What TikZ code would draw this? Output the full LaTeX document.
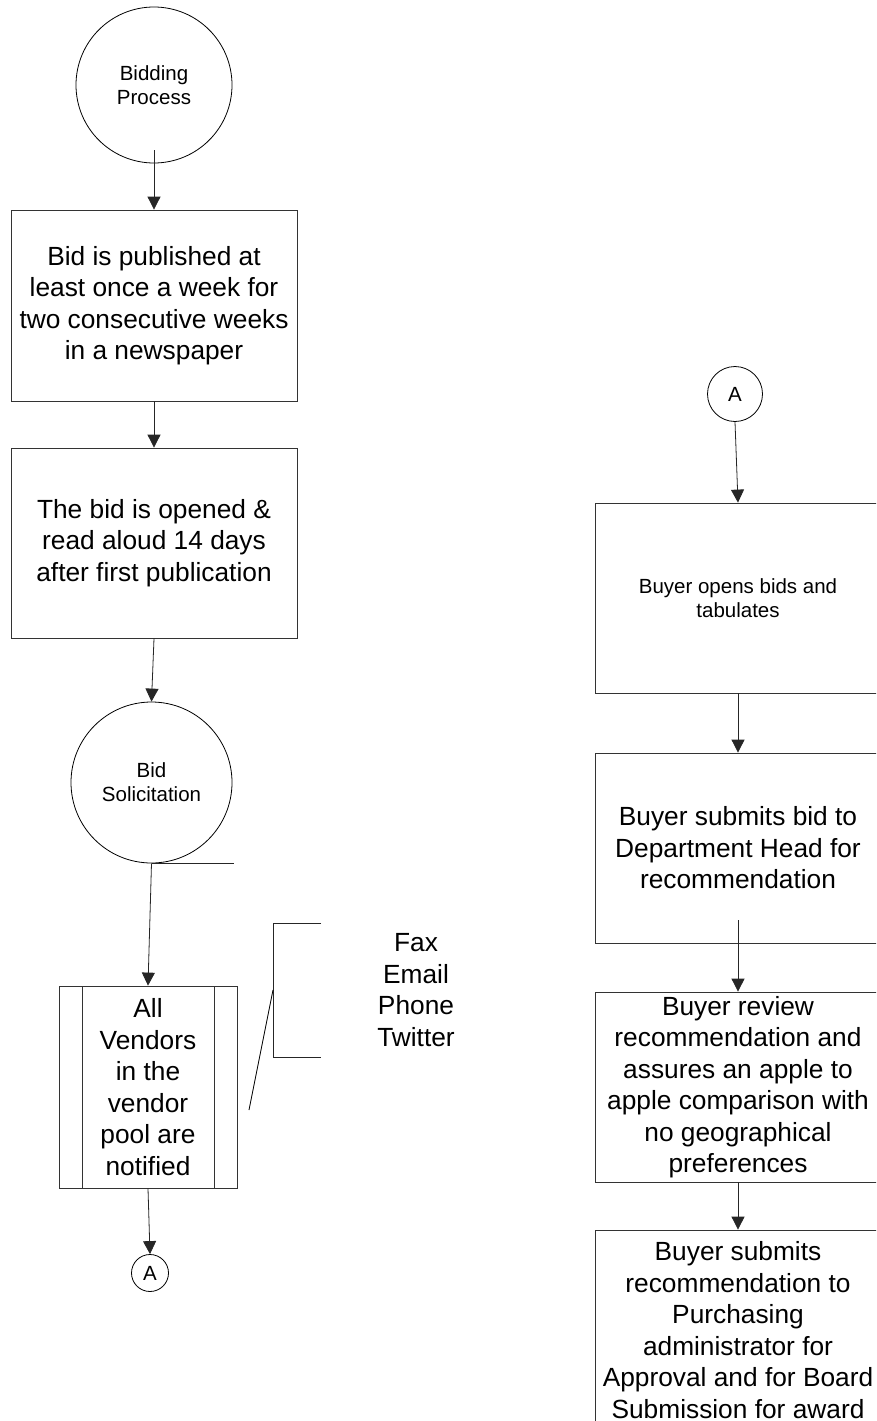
\documentclass[tikz,border=0pt]{standalone}
\usepackage{fontspec}
\setmainfont{Liberation Sans}
\usetikzlibrary{arrows.meta}
\newcommand\bigtxt{\fontsize{26.3}{31.5}\selectfont}
\newcommand\smalltxt{\fontsize{20.5}{24}\selectfont}
\begin{document}
\begin{tikzpicture}[x=1pt,y=-1pt,
  line width=0.8pt,
  proc/.style={draw=black!80, rectangle, minimum width=286pt, minimum height=#1, inner sep=0pt, align=center, font=\bigtxt},
  proc/.default=191pt,
  term/.style={draw=black, circle, minimum size=#1, inner sep=0pt, align=center, font=\smalltxt},
  link/.style={draw=black!85, -{Triangle[length=13pt,width=13pt]}},
  plain/.style={draw=black!85}]
\useasboundingbox (0,0) rectangle (876,1421);
\clip (0,0) rectangle (876,1421);
\fill[white] (0,0) rectangle (876,1421);

% left column
\node[term=156pt] (bp) at (154,85) {Bidding\\Process};
\node[proc] (pub) at (154,305.5) {Bid is published at\\least once a week for\\two consecutive weeks\\in a newspaper};
\node[proc=190pt] (open) at (154,543) {The bid is opened \&\\read aloud 14 days\\after first publication};
\node[term=161pt] (bs) at (151.5,782.5) {Bid\\Solicitation};
\node[proc, minimum width=178pt, minimum height=202pt] (notify) at (148,1087) {All\\Vendors\\in the\\vendor\\pool are\\notified};
\draw[draw=black!80] (82,986) -- (82,1188) (214,986) -- (214,1188);
\node[term=37pt] (aL) at (150,1273) {A};

\coordinate (bpOut) at (154,150);
\draw[link] (bpOut) -- (pub.north);
\draw[link] (pub.south) -- (open.north);
\draw[link] (open.south) -- (bs.north);
\draw[plain] (bs.south) -- ++(82,0);
\draw[link] (bs.south) -- (notify.north);
\draw[link] (notify.south) -- (aL.north);

% annotation bracket
\node[font=\bigtxt, align=center] (media) at (416,990) {Fax\\Email\\Phone\\Twitter};
\coordinate (brTop) at (321,923);
\coordinate (brBot) at (321,1057);
\coordinate (brMid) at (273,990);
\coordinate (brEnd) at (249,1110);
\draw[plain] (brTop) -- (273,923) -- (273,1057) -- (brBot);
\draw[plain, draw=black] (brMid) -- (brEnd);

% right column
\node[term=55pt] (aR) at (735,394) {A};
\node[proc=190pt, font=\smalltxt] (tab) at (738,598) {Buyer opens bids and\\tabulates};
\node[proc=190pt] (dept) at (738,848) {Buyer submits bid to\\Department Head for\\recommendation};
\node[proc=190pt] (review) at (738,1087) {Buyer review\\recommendation and\\assures an apple to\\apple comparison with\\no geographical\\preferences};
\node[proc=200pt] (award) at (738,1330) {Buyer submits\\recommendation to\\Purchasing\\administrator for\\Approval and for Board\\Submission for award};

\draw[link] (aR.south) -- (tab.north);
\draw[link] (tab.south) -- (dept.north);
\coordinate (deptOut) at (738,920);
\draw[link] (deptOut) -- (review.north);
\draw[link] (review.south) -- (award.north);
\end{tikzpicture}
\end{document}
